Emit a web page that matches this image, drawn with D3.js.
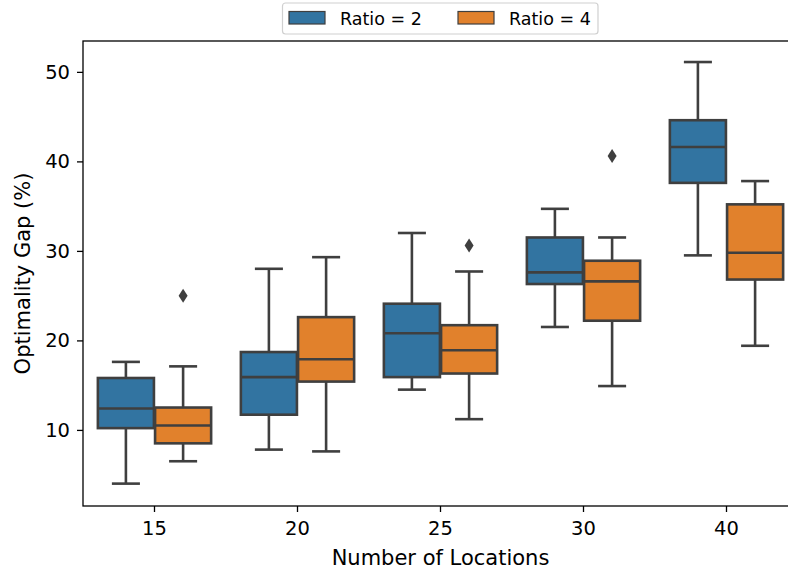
<!DOCTYPE html>
<html>
<head>
<meta charset="utf-8">
<script src="https://cdn.jsdelivr.net/npm/d3@7"></script>
<style>
  body { margin: 0; background: #fff; }
  svg { display: block; font-family: "DejaVu Sans", sans-serif; }
</style>
</head>
<body>
<svg width="788" height="573"></svg>
<script>
const categories = ["15", "20", "25", "30", "40"];
const seriesNames = ["Ratio = 2", "Ratio = 4"];
const seriesColors = ["#3274a1", "#e1812c"];

// box stats per category: low whisker, q1, median, q3, high whisker
const ratio2Low    = [4.0, 7.8, 14.5, 21.5, 29.5];
const ratio2Q1     = [10.2, 11.7, 15.9, 26.3, 37.6];
const ratio2Median = [12.4, 15.9, 20.8, 27.6, 41.6];
const ratio2Q3     = [15.8, 18.7, 24.1, 31.5, 44.6];
const ratio2High   = [17.6, 28.0, 32.0, 34.7, 51.1];
const ratio2Outliers = [[], [], [], [], []];

const ratio4Low    = [6.5, 7.6, 11.2, 14.9, 19.4];
const ratio4Q1     = [8.5, 15.4, 16.3, 22.2, 26.8];
const ratio4Median = [10.5, 17.9, 18.9, 26.6, 29.8];
const ratio4Q3     = [12.5, 22.6, 21.7, 28.9, 35.2];
const ratio4High   = [17.1, 29.3, 27.7, 31.5, 37.8];
const ratio4Outliers = [[25.0], [], [30.6], [40.6], []];

const yTicks = [10, 20, 30, 40, 50];

const margin = {top: 41, right: -10, bottom: 67, left: 83};
const width = 788, height = 573;
const lineColor = "#3f3f3f";

function buildBoxes(idx, low, q1, med, q3, high, outliers) {
    return categories.map((c, i) => ({
        category: c, series: idx,
        low: low[i], q1: q1[i], median: med[i], q3: q3[i], high: high[i],
        outliers: outliers[i]
    }));
}
const boxData = buildBoxes(0, ratio2Low, ratio2Q1, ratio2Median, ratio2Q3, ratio2High, ratio2Outliers)
    .concat(buildBoxes(1, ratio4Low, ratio4Q1, ratio4Median, ratio4Q3, ratio4High, ratio4Outliers));

const svg = d3.select("svg");

const x = d3.scaleBand()
    .domain(categories)
    .range([margin.left, width - margin.right])
    .padding(0);

const hue = d3.scaleBand()
    .domain(d3.range(seriesNames.length))
    .range([0.1 * x.bandwidth(), 0.9 * x.bandwidth()]);

const y = d3.scaleLinear()
    .domain([1.5, 53.45])
    .range([height - margin.bottom, margin.top]);

const boxW = hue.bandwidth() * 0.98;

// boxes
const g = svg.append("g");
const boxes = g.selectAll(".box")
    .data(boxData)
    .enter().append("g")
    .attr("transform", d => `translate(${x(d.category) + hue(d.series) + hue.bandwidth() / 2}, 0)`);

// whiskers
boxes.append("line")
    .attr("x1", 0).attr("x2", 0)
    .attr("y1", d => y(d.q3)).attr("y2", d => y(d.high))
    .attr("stroke", lineColor).attr("stroke-width", 2.6);
boxes.append("line")
    .attr("x1", 0).attr("x2", 0)
    .attr("y1", d => y(d.q1)).attr("y2", d => y(d.low))
    .attr("stroke", lineColor).attr("stroke-width", 2.6);

// caps
["high", "low"].forEach(k => {
    boxes.append("line")
        .attr("x1", -boxW / 4).attr("x2", boxW / 4)
        .attr("y1", d => y(d[k])).attr("y2", d => y(d[k]))
        .attr("stroke", lineColor).attr("stroke-width", 2.6);
});

boxes.append("rect")
    .attr("x", -boxW / 2)
    .attr("width", boxW)
    .attr("y", d => y(d.q3))
    .attr("height", d => y(d.q1) - y(d.q3))
    .attr("fill", d => seriesColors[d.series])
    .attr("stroke", lineColor)
    .attr("stroke-width", 2.6);

// median
boxes.append("line")
    .attr("x1", -boxW / 2).attr("x2", boxW / 2)
    .attr("y1", d => y(d.median)).attr("y2", d => y(d.median))
    .attr("stroke", lineColor).attr("stroke-width", 2.6);

// outliers
boxes.selectAll(".outlier")
    .data(d => d.outliers)
    .enter().append("path")
    .attr("d", v => `M0,${y(v) - 7}L4.5,${y(v)}L0,${y(v) + 7}L-4.5,${y(v)}Z`)
    .attr("fill", lineColor);

// frame
svg.append("rect")
    .attr("x", margin.left)
    .attr("y", margin.top)
    .attr("width", width - margin.right - margin.left)
    .attr("height", height - margin.bottom - margin.top)
    .attr("fill", "none")
    .attr("stroke", "#000")
    .attr("stroke-width", 1.3);

// X axis
const xAxis = svg.append("g")
    .attr("transform", `translate(0, ${height - margin.bottom})`)
    .call(d3.axisBottom(x).tickSize(6).tickPadding(9.5));
// Y axis
const yAxis = svg.append("g")
    .attr("transform", `translate(${margin.left}, 0)`)
    .call(d3.axisLeft(y).tickValues(yTicks).tickSize(6).tickPadding(7));

[xAxis, yAxis].forEach(a => {
    a.select(".domain").remove();
    a.selectAll(".tick line").attr("stroke", "#000").attr("stroke-width", 1.3);
    a.selectAll(".tick text")
        .attr("fill", "#000")
        .style("font-family", "DejaVu Sans")
        .style("font-size", "19.5px");
});

// X label
svg.append("text")
    .attr("x", (margin.left + width - margin.right) / 2)
    .attr("y", 565)
    .attr("text-anchor", "middle")
    .attr("font-size", "21px")
    .text("Number of Locations");

// Y label
svg.append("text")
    .attr("transform", `translate(29.5, ${(margin.top + height - margin.bottom) / 2}) rotate(-90)`)
    .attr("text-anchor", "middle")
    .attr("font-size", "21px")
    .text("Optimality Gap (%)");

// Legend
const legend = svg.append("g");
legend.append("rect")
    .attr("x", 282.5).attr("y", 3)
    .attr("width", 315.5).attr("height", 31)
    .attr("rx", 3)
    .attr("fill", "#fff")
    .attr("stroke", "#d0d0d0")
    .attr("stroke-width", 1.2);

const items = legend.selectAll(".item")
    .data(seriesNames)
    .enter().append("g")
    .attr("transform", (d, i) => `translate(${289 + i * 169}, 0)`);
items.append("rect")
    .attr("x", 0).attr("y", 11.5)
    .attr("width", 36).attr("height", 12.5)
    .attr("fill", (d, i) => seriesColors[i])
    .attr("stroke", lineColor)
    .attr("stroke-width", 1.2);
items.append("text")
    .attr("x", 51).attr("y", 24.5)
    .attr("font-size", "17.5px")
    .text(d => d);
</script>
</body>
</html>
